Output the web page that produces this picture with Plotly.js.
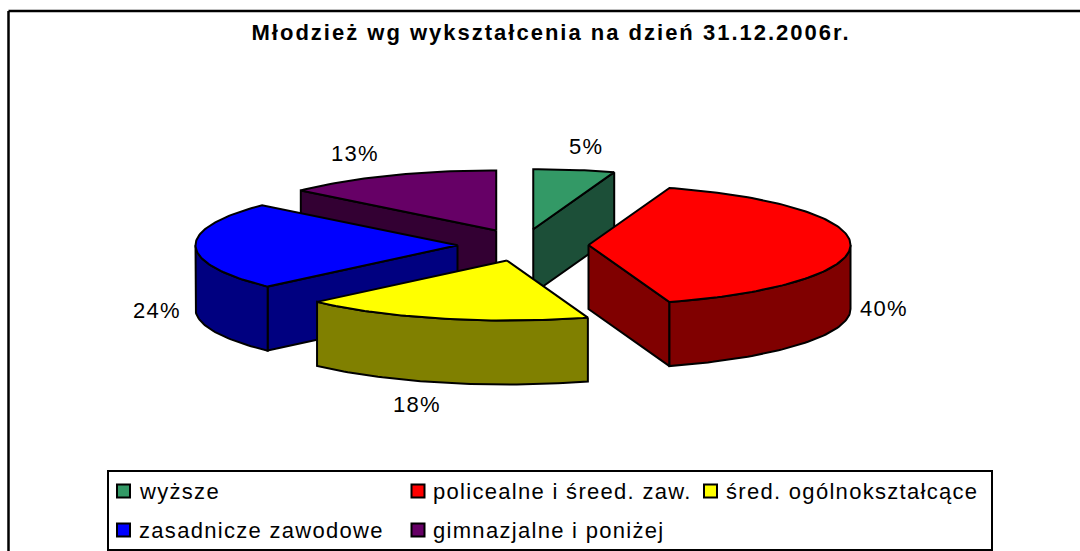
<!DOCTYPE html>
<html>
<head>
<meta charset="utf-8">
<script src="https://cdn.plot.ly/plotly-3.0.1.min.js"></script>
<style>
html,body{margin:0;padding:0;background:#fff;overflow:hidden}#chart{width:1080px;height:551px}
.annotation-text{letter-spacing:1.3px}
.gtitle{letter-spacing:2px}
</style>
</head>
<body>
<div id="chart"></div>
<script>
// Data (shares estimated from slice edges; labels show them rounded)
var categories = ['wyższe', 'policealne i śreed. zaw.', 'śred. ogólnokształcące', 'zasadnicze zawodowe', 'gimnazjalne i poniżej'];
var values = [5, 40, 17.9, 23.7, 13.4];
var topColors = ['#339966', '#ff0000', '#ffff00', '#0000ff', '#660066'];
var wallColors = ['#1c4f38', '#800000', '#808000', '#000080', '#330033'];
var chartTitle = 'Młodzież wg wykształcenia na dzień 31.12.2006r.';

// Pie geometry (pixels)
var CX = 523, CY = 245, RX = 262, RY = 60, DEPTH = 64, EXPLODE_X = 65.5, EXPLODE_Y = 16;
var FONT = 'Liberation Sans, Arial, sans-serif';
var LINE = {color: '#000', width: 2};

var total = values.reduce(function (a, b) { return a + b; }, 0);
var slices = [], acc = 0;
values.forEach(function (v, i) {
  var a0 = acc / total * 2 * Math.PI;
  acc += v;
  var a1 = acc / total * 2 * Math.PI;
  var mid = (a0 + a1) / 2;
  slices.push({i: i, a0: a0, a1: a1,
    ax: CX + EXPLODE_X * Math.sin(mid), ay: CY - EXPLODE_Y * Math.cos(mid)});
});
function rim(s, a) { return [s.ax + RX * Math.sin(a), s.ay - RY * Math.cos(a)]; }
function arc(s, from, to) {
  var pts = [], n = Math.max(2, Math.ceil((to - from) / 0.02));
  for (var k = 0; k <= n; k++) pts.push(rim(s, from + (to - from) * k / n));
  return pts;
}
function poly(pts, color, name) {
  var xs = pts.map(function (p) { return p[0]; }), ys = pts.map(function (p) { return p[1]; });
  xs.push(xs[0]); ys.push(ys[0]);
  return {type: 'scatter', mode: 'lines', x: xs, y: ys, fill: 'toself', fillcolor: color,
    line: LINE, name: name, showlegend: false, hoverinfo: 'name'};
}
function wall(top) {
  var down = top.slice().reverse().map(function (p) { return [p[0], p[1] + DEPTH]; });
  return top.concat(down);
}

var traces = [];
// painter's order: back slices first
[0, 4, 3, 1, 2].forEach(function (i) {
  var s = slices[i], name = categories[i], wc = wallColors[i];
  var start = rim(s, s.a0), end = rim(s, s.a1), apex = [s.ax, s.ay];
  if (start[0] < s.ax - 0.01) traces.push(poly(wall([apex, start]), wc, name));
  if (end[0] > s.ax + 0.01) traces.push(poly(wall([end, apex]), wc, name));
  var f = Math.max(s.a0, Math.PI / 2), t = Math.min(s.a1, 1.5 * Math.PI);
  if (t > f) traces.push(poly(wall(arc(s, f, t)), wc, name));
  traces.push(poly([apex].concat(arc(s, s.a0, s.a1)), topColors[i], name));
});

// Legend swatches, drawn as points
var legendX = [123.5, 418, 710.5, 123.5, 418];
var legendY = [491, 491, 491, 530, 530];
traces.push({type: 'scatter', mode: 'markers', x: legendX, y: legendY,
  marker: {symbol: 'square', size: 13, color: topColors, line: {color: '#000', width: 2}},
  text: categories, hoverinfo: 'text', showlegend: false});

var annotations = [];
var legendTextX = [137, 431, 724, 137, 431];
categories.forEach(function (c, i) {
  annotations.push({xref: 'x', yref: 'y', x: legendTextX[i], y: legendY[i], text: c, showarrow: false,
    xanchor: 'left', yanchor: 'middle', font: {family: FONT, size: 22, color: '#000'}});
});
var labelX = [586, 884, 417, 157, 355];
var labelY = [146, 308, 404, 310, 153];
values.forEach(function (v, i) {
  annotations.push({xref: 'x', yref: 'y', x: labelX[i], y: labelY[i], text: Math.round(v) + '%', showarrow: false,
    xanchor: 'center', yanchor: 'middle', font: {family: FONT, size: 22, color: '#000'}});
});

var layout = {
  width: 1080, height: 551, margin: {l: 0, r: 0, t: 0, b: 0, pad: 0},
  paper_bgcolor: '#fff', plot_bgcolor: '#fff', showlegend: false,
  title: {text: '<b>' + chartTitle + '</b>', x: 551 / 1080, xanchor: 'center', y: 1 - 32 / 551, yanchor: 'middle',
    font: {family: FONT, size: 22, color: '#000'}},
  xaxis: {range: [0, 1080], visible: false, fixedrange: true},
  yaxis: {range: [551, 0], visible: false, fixedrange: true},
  annotations: annotations,
  shapes: [
    {type: 'line', xref: 'x', yref: 'y', x0: 8.5, y0: 11, x1: 1080, y1: 11, line: {color: '#000', width: 2.5}},
    {type: 'line', xref: 'x', yref: 'y', x0: 8.5, y0: 11, x1: 8.5, y1: 551, line: {color: '#000', width: 2.5}},
    {type: 'rect', xref: 'x', yref: 'y', x0: 108, y0: 471, x1: 992, y1: 550, line: {color: '#000', width: 2}, fillcolor: 'rgba(0,0,0,0)'}
  ]
};
Plotly.newPlot('chart', traces, layout, {displayModeBar: false, staticPlot: true});
</script>
</body>
</html>
